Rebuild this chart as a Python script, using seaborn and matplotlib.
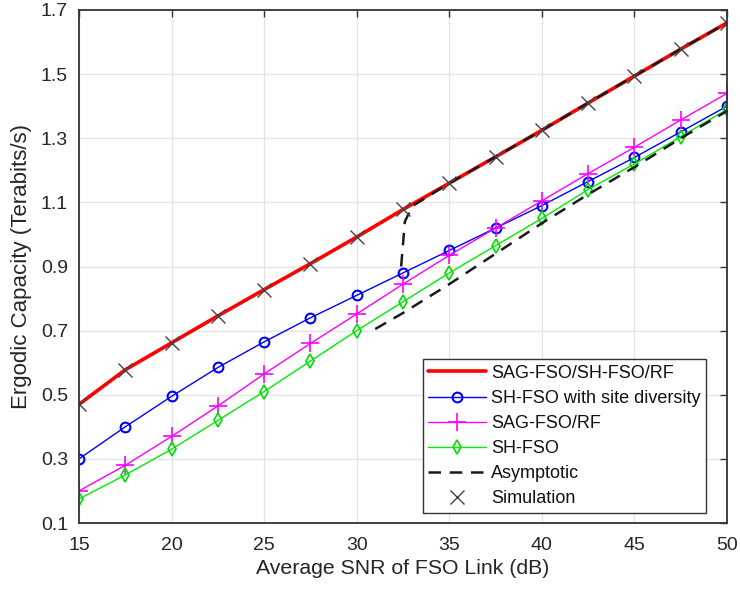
import numpy as np
import pandas as pd
import matplotlib
matplotlib.use("Agg")
import matplotlib.pyplot as plt
import seaborn as sns

snr = [15, 17.5, 20, 22.5, 25, 27.5, 30, 32.5, 35, 37.5, 40, 42.5, 45, 47.5, 50]
sag_sh_rf = [0.47, 0.578, 0.662, 0.746, 0.828, 0.909, 0.992, 1.078, 1.16, 1.242, 1.325, 1.41, 1.494, 1.578, 1.66]
sh_site_div = [0.30, 0.40, 0.495, 0.585, 0.665, 0.74, 0.81, 0.88, 0.95, 1.02, 1.09, 1.165, 1.24, 1.32, 1.40]
sag_rf = [0.20, 0.28, 0.37, 0.465, 0.565, 0.66, 0.752, 0.845, 0.935, 1.02, 1.105, 1.19, 1.272, 1.357, 1.44]
sh_fso = [0.175, 0.25, 0.33, 0.42, 0.51, 0.605, 0.70, 0.79, 0.88, 0.965, 1.05, 1.14, 1.22, 1.305, 1.39]

asym_hi_x = [32.4, 32.6, 33.0, 35, 37.5, 40, 42.5, 45, 47.5, 50]
asym_hi_y = [0.90, 1.04, 1.088, 1.16, 1.242, 1.325, 1.41, 1.494, 1.578, 1.66]
asym_lo_x = [31, 32.5, 35, 37.5, 40, 42.5, 45, 47.5, 50]
asym_lo_y = [0.705, 0.755, 0.845, 0.94, 1.035, 1.125, 1.21, 1.30, 1.385]

labels = ["SAG-FSO/SH-FSO/RF", "SH-FSO with site diversity", "SAG-FSO/RF", "SH-FSO",
          "Asymptotic", "Simulation"]

sns.set_style("white")
plt.rcParams['font.family'] = ['Liberation Sans', 'DejaVu Sans']
txt = '#262626'

fig = plt.figure(figsize=(7.4, 5.9), dpi=100)
ax = fig.add_axes([79/740, 1 - 523/590, (727-79)/740, (523-10)/590])

sns.lineplot(x=snr, y=sag_sh_rf, color='#ff0000', lw=2.6, ax=ax, label=labels[0],
             sort=False, estimator=None)
sns.lineplot(x=snr, y=sh_site_div, color='#0000ff', lw=1.0, marker='o', markersize=7,
             markerfacecolor='none', markeredgecolor='#0000ff', markeredgewidth=1.5,
             ax=ax, label=labels[1], sort=False, estimator=None)
sns.lineplot(x=snr, y=sag_rf, color='#ff00ff', lw=1.0, marker='+', markersize=13,
             markeredgecolor='#ff00ff', markeredgewidth=1.2,
             ax=ax, label=labels[2], sort=False, estimator=None)
sns.lineplot(x=snr, y=sh_fso, color='#00ee00', lw=1.0, marker='d', markersize=7,
             markerfacecolor='none', markeredgecolor='#00dd00', markeredgewidth=1.2,
             ax=ax, label=labels[3], sort=False, estimator=None)
sns.lineplot(x=asym_hi_x, y=asym_hi_y, color='#1a1a1a', lw=1.8, linestyle=(0, (5, 3.5)),
             ax=ax, label=labels[4], sort=False, estimator=None)
sns.lineplot(x=asym_lo_x, y=asym_lo_y, color='#1a1a1a', lw=1.8, linestyle=(0, (5, 3.5)),
             ax=ax, label='_nolegend_', sort=False, estimator=None)
sns.lineplot(x=snr, y=sag_sh_rf, color='#444444', linestyle='', marker='x', markersize=10,
             markeredgecolor='#444444', markeredgewidth=1.0, ax=ax, label=labels[5],
             sort=False, estimator=None)

ax.set_xlim(15, 50)
ax.set_ylim(0.1, 1.7)
ax.set_xticks([15, 20, 25, 30, 35, 40, 45, 50])
ax.set_yticks([0.1, 0.3, 0.5, 0.7, 0.9, 1.1, 1.3, 1.5, 1.7])
ax.set_yticklabels(['0.1', '0.3', '0.5', '0.7', '0.9', '1.1', '1.3', '1.5', '1.7'])
ax.grid(True, color='#e3e3e3', lw=0.9)
ax.set_axisbelow(True)
ax.tick_params(direction='in', length=5, width=1, top=True, right=True,
               labelsize=14, colors='#333333', labelcolor=txt)
ax.tick_params(axis='x', pad=10)
ax.tick_params(axis='y', pad=8)
for s in ax.spines.values():
    s.set_color('#333333')
    s.set_linewidth(1.3)
ax.set_xlabel('Average SNR of FSO Link (dB)', fontsize=15.3, color=txt, labelpad=4)
ax.set_ylabel('Ergodic Capacity (Terabits/s)', fontsize=16, color=txt, labelpad=6)

handles, labs = ax.get_legend_handles_labels()
order = [labs.index(l) for l in labels]
leg = ax.legend([handles[i] for i in order], [labs[i] for i in order],
                loc='lower right', bbox_to_anchor=(0.968, 0.02), fontsize=13,
                frameon=True, fancybox=False, edgecolor='#333333', framealpha=1,
                handlelength=3.2, handletextpad=0.3, borderpad=0.3, labelspacing=0.45,
                borderaxespad=0)
leg.get_frame().set_linewidth(1.0)
for t in leg.get_texts():
    t.set_color('#111111')

fig.savefig('out.png', dpi=100)
